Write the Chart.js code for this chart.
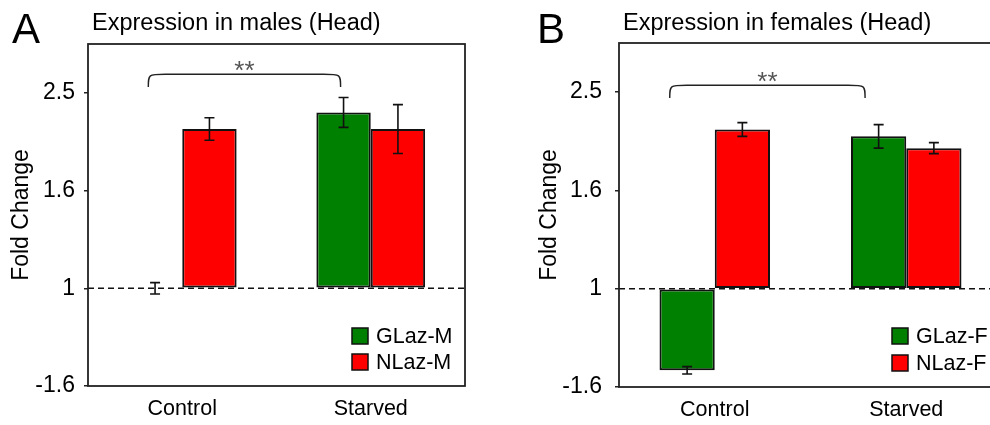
<!DOCTYPE html>
<html>
<head>
<meta charset="utf-8">
<script src="https://cdn.jsdelivr.net/npm/chart.js@4.4.1/dist/chart.umd.min.js"></script>
<style>
    body { margin: 0; width: 990px; height: 425px; overflow: hidden; background: #fff; position: relative; }
    canvas { position: absolute; top: 0; }
</style>
</head>
<body>
<canvas id="chartA" width="495" height="425" style="left:0"></canvas>
<canvas id="chartB" width="540" height="425" style="left:495px"></canvas>
<script>
// axis positions are evenly spaced, labelled with the fold change values
const categories = ['Control', 'Starved'];
const tickValues = [-1, 0, 1, 2];
const tickLabels = ['-1.6', '1', '1.6', '2.5'];

// males (head)
const glazM = [0, 1.80];
const glazMErr = [0.058, 0.153];
const nlazM = [1.63, 1.63];
const nlazMErr = [0.115, 0.25];

// females (head)
const glazF = [-0.83, 1.55];
const glazFErr = [0.037, 0.12];
const nlazF = [1.62, 1.43];
const nlazFErr = [0.07, 0.056];

const FONT = '"Liberation Sans", Arial, sans-serif';
const GREEN = '#008000';
const RED = '#ff0000';
const EDGE = '#111';

Chart.defaults.font.family = FONT;
Chart.defaults.color = '#000';

// everything the library has no option for: baseline, error bars, frame, bracket, legend, headings
const panelDecor = {
    id: 'panelDecor',
    beforeDatasetsDraw(chart, args, opts) {
        const {ctx, chartArea} = chart;
        const y = chart.scales.y.getPixelForValue(0);
        ctx.save();
        ctx.strokeStyle = '#111';
        ctx.lineWidth = 1.6;
        ctx.setLineDash([6, 4]);
        ctx.beginPath();
        ctx.moveTo(chartArea.left, y);
        ctx.lineTo(chartArea.right, y);
        ctx.stroke();
        ctx.restore();
    },
    afterDatasetsDraw(chart, args, opts) {
        const {ctx, chartArea} = chart;
        const ys = chart.scales.y;
        const xs = chart.scales.x;
        ctx.save();

        // error bars
        ctx.strokeStyle = '#111';
        ctx.lineWidth = 1.6;
        chart.data.datasets.forEach((ds, i) => {
            const meta = chart.getDatasetMeta(i);
            meta.data.forEach((bar, j) => {
                const v = ds.data[j];
                const e = ds.err[j];
                const top = ys.getPixelForValue(v + e);
                const bot = ys.getPixelForValue(v - e);
                ctx.beginPath();
                ctx.moveTo(bar.x, top);
                ctx.lineTo(bar.x, bot);
                ctx.moveTo(bar.x - 5, top);
                ctx.lineTo(bar.x + 5, top);
                ctx.moveTo(bar.x - 5, bot);
                ctx.lineTo(bar.x + 5, bot);
                ctx.stroke();
            });
        });

        // frame
        ctx.strokeStyle = '#222';
        ctx.lineWidth = 1.8;
        ctx.strokeRect(chartArea.left, chartArea.top, chartArea.right - chartArea.left, chartArea.bottom - chartArea.top);

        // significance bracket
        const b = opts.bracket;
        const x1 = xs.getPixelForValue(b.from);
        const x2 = xs.getPixelForValue(b.to);
        const yTop = ys.getPixelForValue(b.top);
        const yFoot = ys.getPixelForValue(b.foot);
        const r = 17;
        ctx.strokeStyle = '#222';
        ctx.lineWidth = 1.4;
        ctx.beginPath();
        ctx.moveTo(x1, yFoot);
        ctx.bezierCurveTo(x1, yTop, x1, yTop, x1 + r, yTop);
        ctx.lineTo(x2 - r, yTop);
        ctx.bezierCurveTo(x2, yTop, x2, yTop, x2, yFoot);
        ctx.stroke();
        ctx.fillStyle = '#555';
        ctx.font = '26px ' + FONT;
        ctx.textAlign = 'center';
        ctx.textBaseline = 'alphabetic';
        ctx.fillText(b.label, (x1 + x2) / 2, yTop + 5);

        // legend
        const lg = opts.legend;
        ctx.font = '21.5px ' + FONT;
        ctx.textAlign = 'left';
        ctx.textBaseline = 'middle';
        chart.data.datasets.forEach((ds, i) => {
            const by = lg.y + i * lg.step;
            ctx.fillStyle = ds.backgroundColor;
            ctx.fillRect(lg.x, by, 16, 16);
            ctx.strokeStyle = EDGE;
            ctx.lineWidth = 1.5;
            ctx.strokeRect(lg.x, by, 16, 16);
            ctx.fillStyle = '#000';
            ctx.fillText(ds.label, lg.x + 24, by + 9);
        });

        // panel letter and heading
        ctx.fillStyle = '#000';
        ctx.textBaseline = 'alphabetic';
        ctx.font = '42px ' + FONT;
        ctx.fillText(opts.letter, opts.letterX, 43);
        ctx.font = '23.5px ' + FONT;
        ctx.fillText(opts.title, opts.titleX, 30);
        ctx.restore();
    }
};

let makePanel = (id, cfg) => {
    const ctx = document.getElementById(id).getContext('2d');
    const barStyle = {
        borderColor: EDGE,
        borderWidth: 2,
        borderSkipped: false,
        categoryPercentage: 0.577,
        barPercentage: 1
    };
    return new Chart(ctx, {
        type: 'bar',
        data: {
            labels: categories,
            datasets: [
                {
                    label: cfg.names[0],
                    data: cfg.green,
                    err: cfg.greenErr,
                    backgroundColor: GREEN,
                    ...barStyle
                },
                {
                    label: cfg.names[1],
                    data: cfg.red,
                    err: cfg.redErr,
                    backgroundColor: RED,
                    ...barStyle
                }
            ]
        },
        options: {
            responsive: false,
            animation: false,
            layout: { padding: cfg.padding },
            scales: {
                x: {
                    afterFit: (scale) => { scale.height = cfg.xHeight; },
                    grid: { display: false, drawTicks: false },
                    border: { display: false },
                    ticks: {
                        padding: 10,
                        font: { size: 21.5 },
                        color: '#000'
                    }
                },
                y: {
                    min: -1,
                    max: 2.5,
                    afterFit: (scale) => { scale.width = 88; },
                    afterBuildTicks: (scale) => {
                        scale.ticks = tickValues.map(v => ({ value: v }));
                    },
                    grid: {
                        drawOnChartArea: false,
                        tickLength: 4,
                        tickColor: '#222',
                        lineWidth: 1.5
                    },
                    border: { display: false },
                    ticks: {
                        padding: cfg.tickPad,
                        font: { size: 23 },
                        color: '#000',
                        callback: (value) => tickLabels[tickValues.indexOf(value)]
                    },
                    title: {
                        display: true,
                        text: 'Fold Change',
                        font: { size: 23 },
                        color: '#000',
                        padding: { top: cfg.titlePad, bottom: 0 }
                    }
                }
            },
            plugins: {
                legend: { display: false },
                tooltip: { enabled: false },
                panelDecor: {
                    letter: cfg.letter,
                    letterX: cfg.letterX,
                    title: cfg.title,
                    titleX: cfg.titleX,
                    bracket: cfg.bracket,
                    legend: cfg.legend
                }
            }
        },
        plugins: [panelDecor]
    });
};

makePanel('chartA', {
    letter: 'A', letterX: 12,
    title: 'Expression in males (Head)', titleX: 92,
    names: ['GLaz-M', 'NLaz-M'],
    green: glazM, greenErr: glazMErr,
    red: nlazM, redErr: nlazMErr,
    padding: { top: 44, right: 30, left: 0, bottom: 0 },
    xHeight: 39,
    tickPad: 9,
    titlePad: 8,
    bracket: { from: -0.18, to: 0.84, top: 2.19, foot: 2.06, label: '**' },
    legend: { x: 352, y: 328, step: 26 }
});

makePanel('chartB', {
    letter: 'B', letterX: 42,
    title: 'Expression in females (Head)', titleX: 128,
    names: ['GLaz-F', 'NLaz-F'],
    green: glazF, greenErr: glazFErr,
    red: nlazF, redErr: nlazFErr,
    padding: { top: 43, right: 33, left: 36, bottom: 0 },
    xHeight: 38,
    tickPad: 13,
    titlePad: 5,
    bracket: { from: -0.235, to: 0.785, top: 2.07, foot: 1.94, label: '**' },
    legend: { x: 397, y: 328, step: 27 }
});
</script>
</body>
</html>
